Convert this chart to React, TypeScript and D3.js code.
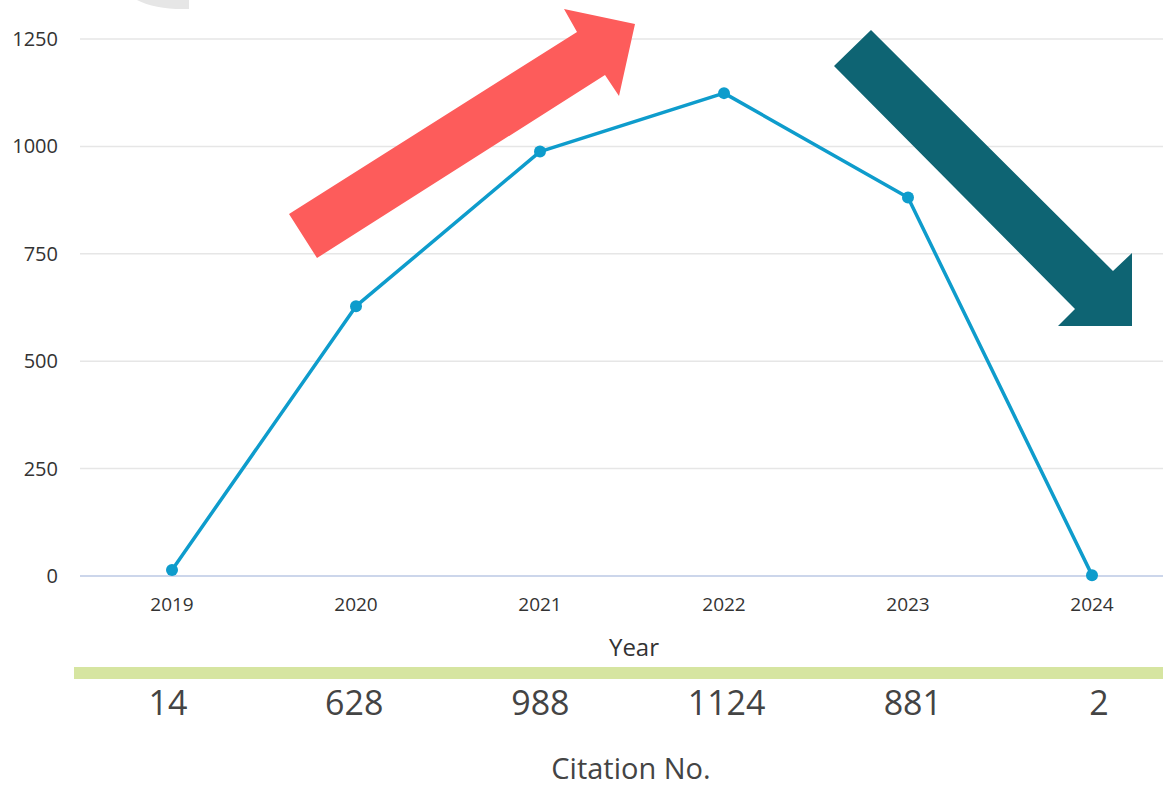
import React from "react";
import * as d3 from "d3";

const years = ["2019", "2020", "2021", "2022", "2023", "2024"];
const citations = [14, 628, 988, 1124, 881, 2];
const yTicks = [0, 250, 500, 750, 1000, 1250];
const xAxisTitle = "Year";
const tableTitle = "Citation No.";

const W = 1163;
const H = 789;

export default function App() {
  const x = d3.scaleBand<string>().domain(years).range([80, 1184]).padding(0);
  const y = d3.scaleLinear().domain([0, 1250]).range([576, 39]);
  const cx = (d: string) => (x(d) as number) + x.bandwidth() / 2;
  const rowX = d3.scalePoint<string>().domain(years).range([168, 1099]);

  const line = d3
    .line<number>()
    .x((_, i) => cx(years[i]))
    .y((d) => y(d));

  const font = "'Open Sans', 'Noto Sans', sans-serif";

  return (
    <svg
      width={W}
      height={H}
      style={{ position: "absolute", left: 0, top: 0, background: "#fff" }}
      fontFamily={font}
    >
      <rect x={0} y={0} width={W} height={H} fill="#fff" />
      {/* gray decorative shape at top */}
      <path d="M137,0 Q156,10 189,9 L189,0 Z" fill="#e6e6e6" />

      {/* grid lines */}
      {yTicks.map((t) => (
        <line
          key={t}
          x1={80}
          x2={W}
          y1={y(t)}
          y2={y(t)}
          stroke={t === 0 ? "#ccd6eb" : "#e6e6e6"}
          strokeWidth={t === 0 ? 2 : 1.5}
        />
      ))}

      {/* y labels */}
      {yTicks.map((t) => (
        <text
          key={t}
          x={58}
          y={y(t)}
          dy="0.35em"
          textAnchor="end"
          fontSize={20}
          fill="#333"
        >
          {t}
        </text>
      ))}

      {/* x labels */}
      {years.map((yr) => (
        <text
          key={yr}
          x={cx(yr)}
          y={611}
          textAnchor="middle"
          fontSize={19}
          fill="#333"
        >
          {yr}
        </text>
      ))}

      <text x={634} y={656} textAnchor="middle" fontSize={24} fill="#333">
        {xAxisTitle}
      </text>

      {/* red arrow (up) */}
      <polygon
        points="289,214 577,32 564,9 635,24 619,96 605,75 317,258"
        fill="#fd5c5b"
      />
      {/* teal arrow (down) */}
      <polygon
        points="871,30 1113,271 1132,253 1132,326 1058,326 1075,309 834,66"
        fill="#0e6473"
      />

      {/* series line */}
      <path
        d={line(citations) || ""}
        fill="none"
        stroke="#0e9ccc"
        strokeWidth={3.5}
        strokeLinejoin="round"
      />
      {citations.map((v, i) => (
        <circle key={i} cx={cx(years[i])} cy={y(v)} r={6} fill="#0e9ccc" />
      ))}

      {/* green band */}
      <rect x={74} y={667} width={W - 74} height={12} fill="#d6e5a1" />

      {/* value row */}
      {citations.map((v, i) => (
        <text
          key={i}
          x={rowX(years[i])}
          y={715}
          textAnchor="middle"
          fontSize={34}
          fill="#444"
        >
          {v}
        </text>
      ))}

      <text x={631} y={779} textAnchor="middle" fontSize={29} fill="#444">
        {tableTitle}
      </text>
    </svg>
  );
}
